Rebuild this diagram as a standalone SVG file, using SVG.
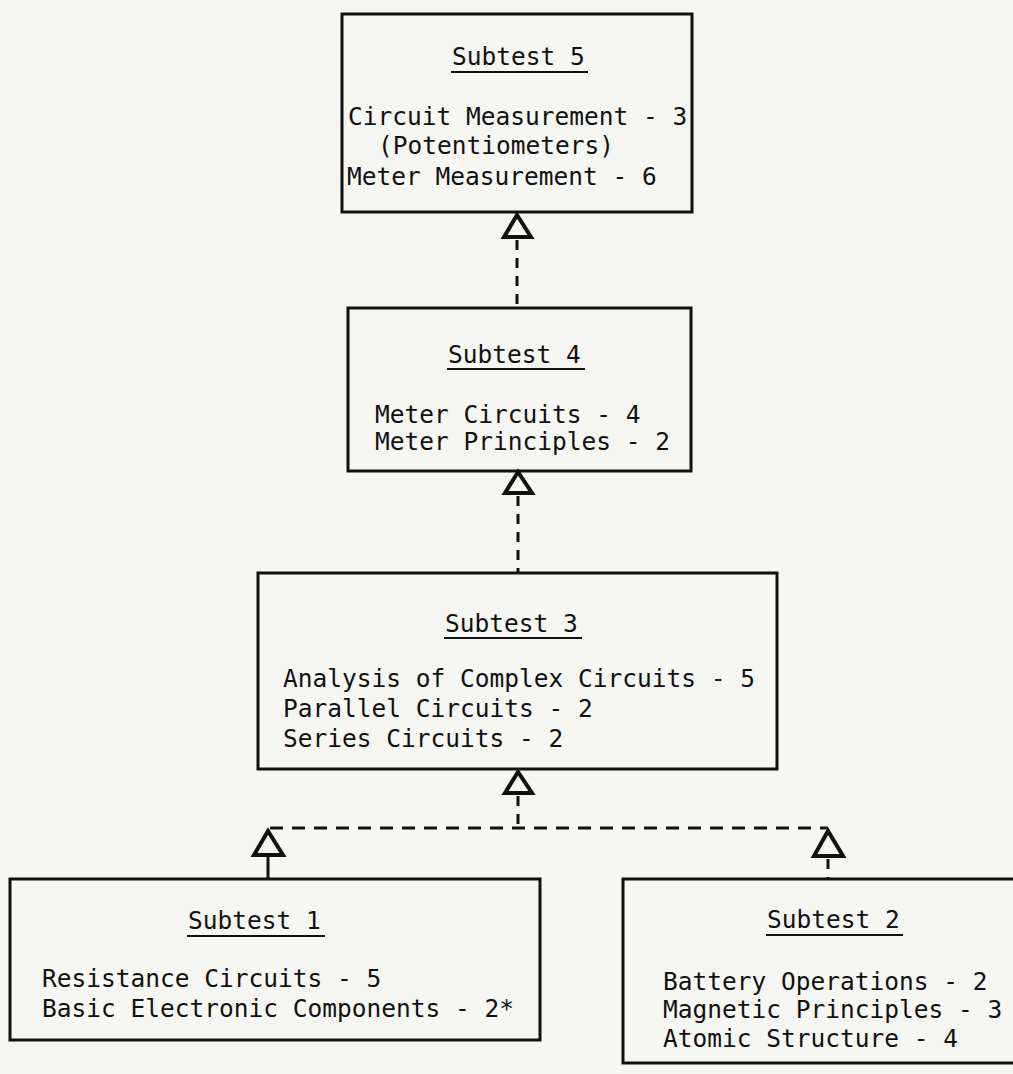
<svg xmlns="http://www.w3.org/2000/svg" width="1013" height="1074" viewBox="0 0 1013 1074">
<style>
.bg{fill:#f6f6f3}
.box{fill:none;stroke:#111;stroke-width:3}
.t{font-family:"DejaVu Sans Mono","Liberation Mono",monospace;font-size:24.5px;fill:#111}
.ul{stroke:#111;stroke-width:2}
.dash{fill:none;stroke:#111;stroke-width:3;stroke-dasharray:10 8}
.solid{fill:none;stroke:#111;stroke-width:3}
.tri{fill:#f6f6f3;stroke:#111;stroke-width:4;stroke-linejoin:miter}
</style>
<rect class="bg" x="0" y="0" width="1013" height="1074"/>
<g id="connectors">
  <line class="dash" x1="517" y1="240" x2="517" y2="308"/>
  <polygon class="tri" points="517,215 504,237 531,237"/>
  <line class="dash" x1="518" y1="496" x2="518" y2="573"/>
  <polygon class="tri" points="518,472 505,493 532,493"/>
  <line class="dash" x1="518" y1="796" x2="518" y2="828"/>
  <polygon class="tri" points="518,772 505,793 532,793"/>
  <line class="dash" x1="270" y1="828" x2="828" y2="828" style="stroke-dasharray:13 9"/>
  <polygon class="tri" points="268,831 254,855 283,855"/>
  <line class="solid" x1="268" y1="855" x2="268" y2="879"/>
  <polygon class="tri" points="828,831 814,856 843,856"/>
  <line class="dash" x1="828" y1="859" x2="828" y2="879"/>
</g>
<g id="subtest5">
  <rect class="box" x="342" y="14" width="350" height="198"/>
  <text class="t" x="452" y="65">Subtest 5</text>
  <line class="ul" x1="451" y1="72" x2="588" y2="72"/>
  <text class="t" x="348" y="125">Circuit Measurement - 3</text>
  <text class="t" x="378" y="154">(Potentiometers)</text>
  <text class="t" x="347" y="185">Meter Measurement - 6</text>
</g>
<g id="subtest4">
  <rect class="box" x="348" y="308" width="343" height="163"/>
  <text class="t" x="448" y="363">Subtest 4</text>
  <line class="ul" x1="447" y1="369" x2="585" y2="369"/>
  <text class="t" x="375" y="423">Meter Circuits - 4</text>
  <text class="t" x="375" y="450">Meter Principles - 2</text>
</g>
<g id="subtest3">
  <rect class="box" x="258" y="573" width="519" height="196"/>
  <text class="t" x="445" y="632">Subtest 3</text>
  <line class="ul" x1="444" y1="638" x2="582" y2="638"/>
  <text class="t" x="283" y="687">Analysis of Complex Circuits - 5</text>
  <text class="t" x="283" y="717">Parallel Circuits - 2</text>
  <text class="t" x="283" y="747">Series Circuits - 2</text>
</g>
<g id="subtest1">
  <rect class="box" x="10" y="879" width="530" height="161"/>
  <text class="t" x="188" y="929">Subtest 1</text>
  <line class="ul" x1="187" y1="936" x2="325" y2="936"/>
  <text class="t" x="42" y="987">Resistance Circuits - 5</text>
  <text class="t" x="42" y="1017">Basic Electronic Components - 2*</text>
</g>
<g id="subtest2">
  <path class="box" d="M1030,879 H623 V1063 H1030"/>
  <text class="t" x="767" y="928">Subtest 2</text>
  <line class="ul" x1="766" y1="935" x2="903" y2="935"/>
  <text class="t" x="663" y="990">Battery Operations - 2</text>
  <text class="t" x="663" y="1018">Magnetic Principles - 3</text>
  <text class="t" x="663" y="1047">Atomic Structure - 4</text>
</g>
</svg>
